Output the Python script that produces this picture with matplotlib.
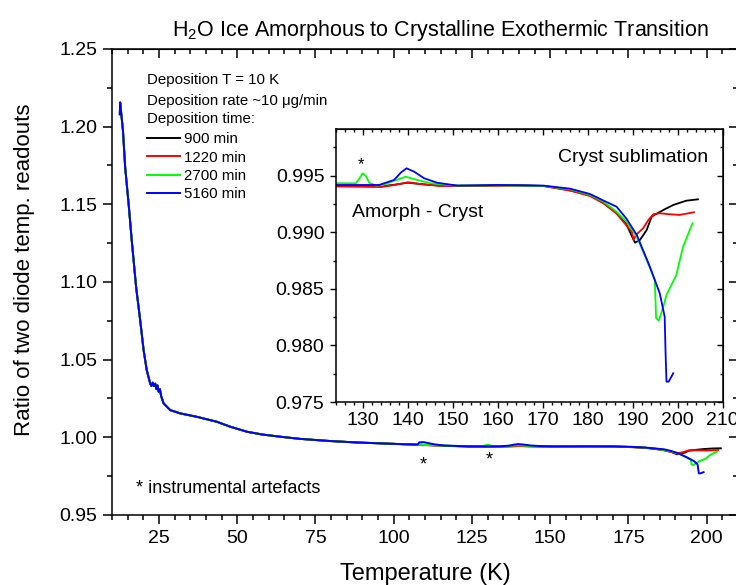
import numpy as np
import matplotlib.pyplot as plt
from matplotlib.ticker import MultipleLocator, FormatStrFormatter

plt.rcParams['font.family'] = ['Liberation Sans', 'DejaVu Sans']
plt.rcParams['mathtext.fontset'] = 'custom'
plt.rcParams['mathtext.rm'] = 'Liberation Sans'

# low temperature part, the four runs lie on top of each other here
t_low = [12.5, 12.6, 13.5, 14.2, 15.3, 16.4, 17.7, 19.0, 20.1, 21.1, 22.2, 22.6, 23.0,
         23.4, 23.8, 24.2, 24.5, 24.9, 25.3, 25.7, 26.5, 28.6, 31.8, 37.1, 43.5, 47.8,
         53.1, 58.0, 63.7, 70.0, 79.7, 88.0, 95.7, 104.0]
r_low = [1.2080, 1.2155, 1.1973, 1.1738, 1.1503, 1.1246, 1.0967, 1.0753, 1.0560, 1.0432,
         1.0346, 1.0330, 1.0352, 1.0330, 1.0345, 1.0310, 1.0335, 1.0293, 1.0310, 1.0265,
         1.0218, 1.0175, 1.0154, 1.0132, 1.0100, 1.0068, 1.0036, 1.0018, 1.0004, 0.9990,
         0.9976, 0.9967, 0.9961, 0.9955]

# high temperature part of each run
t_900 = [110, 116, 124, 134, 137, 140, 143, 147, 155, 165, 170.2, 176.1, 180.5, 183.5,
         186.4, 188.6, 189.4, 190.5, 191.6, 193.1, 194.2, 196.8, 199.0, 201.9, 204.5]
r_900 = [0.9951, 0.9946, 0.99410, 0.99405, 0.99420, 0.99438, 0.99425, 0.99412, 0.99412,
         0.99415, 0.99410, 0.99370, 0.99325, 0.99260, 0.99170, 0.99070, 0.99000, 0.98908,
         0.98932, 0.99020, 0.99138, 0.99197, 0.99241, 0.99279, 0.99291]

t_1220 = [110, 116, 124, 134, 137, 140, 143, 147, 155, 165, 170.2, 176.1, 180.5, 183.5,
          186.4, 188.6, 189.8, 190.2, 190.7, 192.3, 193.5, 194.6, 196.0, 198.0, 200.4, 203.6]
r_1220 = [0.9950, 0.9945, 0.99405, 0.99400, 0.99418, 0.99442, 0.99425, 0.99410, 0.99410,
          0.99412, 0.99408, 0.99368, 0.99320, 0.99255, 0.99165, 0.99060, 0.99005, 0.98932,
          0.98976, 0.99035, 0.99110, 0.99160, 0.99168, 0.99160, 0.99153, 0.99177]

t_2700 = [110, 116, 124.2, 128.4, 129.3, 129.9, 130.6, 131.4, 132.9, 134.5, 136.2, 139.5,
          142.1, 145.1, 151, 160, 170.2, 176.1, 180.5, 183.5, 186.4, 188.6, 190.9, 193.1,
          194.9, 195.2, 195.8, 196.8, 197.5, 199.7, 200.3, 201.2, 203.3]
r_2700 = [0.9951, 0.9946, 0.99433, 0.99433, 0.99480, 0.99521, 0.99500, 0.99438, 0.99412,
          0.99418, 0.99445, 0.99491, 0.99462, 0.99433, 0.99412, 0.99415, 0.99409, 0.99380,
          0.99330, 0.99270, 0.99182, 0.99094, 0.98961, 0.98755, 0.98579, 0.98240, 0.98219,
          0.98343, 0.98446, 0.98623, 0.98726, 0.98873, 0.99080]

t_5160 = [106.5, 107.6, 108.2, 109.5, 111, 113, 116, 124, 133.6, 136.9, 138.5, 139.7, 141.4,
          143.6, 146.5, 151, 160, 170.2, 176.1, 180.5, 183.5, 186.4, 188.6, 190.9, 193.8,
          196.0, 197.1, 197.3, 197.5, 198.0, 199.0]
r_5160 = [0.9954, 0.9953, 0.9968, 0.9969, 0.9963, 0.9955, 0.9947, 0.99418, 0.99418, 0.99462,
          0.99530, 0.99565, 0.99535, 0.99477, 0.99438, 0.99412, 0.99418, 0.99412, 0.99385,
          0.99338, 0.99280, 0.99226, 0.99120, 0.98976, 0.98696, 0.98461, 0.98254, 0.97931,
          0.97680, 0.97680, 0.97754]

runs = [('900 min', 'black', t_900, r_900),
        ('1220 min', '#ff0000', t_1220, r_1220),
        ('2700 min', '#00ff00', t_2700, r_2700),
        ('5160 min', '#0000ff', t_5160, r_5160)]

fig = plt.figure(figsize=(7.36, 5.85), dpi=100)
ax = fig.add_axes([0.1522, 0.1197, 0.8505, 0.7966])

for lab, col, t, r in runs:
    ax.plot(t_low + t, r_low + r, color=col, lw=1.4, label=lab)

ax.set_xlim(10, 210)
ax.set_ylim(0.95, 1.25)
ax.xaxis.set_major_locator(MultipleLocator(25))
ax.xaxis.set_minor_locator(MultipleLocator(5))
ax.yaxis.set_major_locator(MultipleLocator(0.05))
ax.yaxis.set_minor_locator(MultipleLocator(0.025))
ax.yaxis.set_major_formatter(FormatStrFormatter('%.2f'))
ax.tick_params(which='both', direction='out', width=1.1, labelsize=14, pad=4)
ax.tick_params(which='major', length=6.5)
ax.tick_params(which='minor', length=3.6)
for s in ax.spines.values():
    s.set_linewidth(1.1)

top = ax.secondary_xaxis('top')
top.xaxis.set_major_locator(MultipleLocator(25))
top.xaxis.set_minor_locator(MultipleLocator(5))
top.tick_params(which='both', direction='in', width=1.1, labeltop=False)
top.tick_params(which='major', length=6.5)
top.tick_params(which='minor', length=3.6)
right = ax.secondary_yaxis('right')
right.yaxis.set_major_locator(MultipleLocator(0.05))
right.yaxis.set_minor_locator(MultipleLocator(0.025))
right.tick_params(which='both', direction='in', width=1.1, labelright=False)
right.tick_params(which='major', length=6.5)
right.tick_params(which='minor', length=3.6)

fig.text(0.5978, 0.9393, 'H$_\\mathregular{2}$O Ice Amorphous to Crystalline Exothermic Transition',
         ha='center', va='baseline', fontsize=15.5)
fig.text(0.5774, 0.0085, 'Temperature (K)', ha='center', va='baseline', fontsize=17)
fig.text(0.033, 0.5385, 'Ratio of two diode temp. readouts', rotation=90,
         ha='center', va='center', fontsize=16)

ax.text(0.0554, 0.9257, 'Deposition T = 10 K', transform=ax.transAxes, fontsize=10.8, va='baseline')
ax.text(0.0554, 0.8807, 'Deposition rate ~10 \u03bcg/min', transform=ax.transAxes, fontsize=10.8, va='baseline')
ax.text(0.0554, 0.8409, 'Deposition time:', transform=ax.transAxes, fontsize=10.8, va='baseline')
ax.legend(loc='upper left', bbox_to_anchor=(0.0554, 0.821), frameon=False, fontsize=10.8,
          handlelength=2.2, handletextpad=0.3, labelspacing=0.29, borderpad=0, borderaxespad=0)

ax.text(0.0383, 0.0465, '* instrumental artefacts', transform=ax.transAxes, fontsize=13, va='baseline')
ax.text(109.3, 0.9794, '*', ha='center', va='baseline', fontsize=13)
ax.text(130.6, 0.9822, '*', ha='center', va='baseline', fontsize=13)

# inset: zoom on the transition region
ins = fig.add_axes([0.4565, 0.3128, 0.5254, 0.4662])
for lab, col, t, r in runs:
    ins.plot(t_low + t, r_low + r, color=col, lw=1.3)
ins.set_xlim(124, 210)
ins.set_ylim(0.975, 0.9991)
ins.xaxis.set_major_locator(MultipleLocator(10))
ins.xaxis.set_minor_locator(MultipleLocator(2))
ins.yaxis.set_major_locator(MultipleLocator(0.005))
ins.yaxis.set_minor_locator(MultipleLocator(0.0025))
ins.yaxis.set_major_formatter(FormatStrFormatter('%.3f'))
ins.tick_params(which='both', direction='out', width=1.0, labelsize=14)
ins.tick_params(axis='y', pad=4)
ins.tick_params(axis='x', pad=3)
ins.tick_params(which='major', length=4.3)
ins.tick_params(which='minor', length=2.5)
for s in ins.spines.values():
    s.set_linewidth(1.1)
itop = ins.secondary_xaxis('top')
itop.xaxis.set_major_locator(MultipleLocator(10))
itop.xaxis.set_minor_locator(MultipleLocator(2))
itop.tick_params(which='both', direction='in', width=1.0, labeltop=False)
itop.tick_params(which='major', length=4.3)
itop.tick_params(which='minor', length=2.5)
iright = ins.secondary_yaxis('right')
iright.yaxis.set_major_locator(MultipleLocator(0.005))
iright.yaxis.set_minor_locator(MultipleLocator(0.0025))
iright.tick_params(which='both', direction='in', width=1.0, labelright=False)
iright.tick_params(which='major', length=4.3)
iright.tick_params(which='minor', length=2.5)

ins.text(0.962, 0.881, 'Cryst sublimation', transform=ins.transAxes, ha='right', va='baseline', fontsize=14)
ins.text(0.0406, 0.677, 'Amorph - Cryst', transform=ins.transAxes, ha='left', va='baseline', fontsize=14)
ins.text(129.6, 0.99559, '*', ha='center', va='baseline', fontsize=12)

fig.savefig('out.png', dpi=100)
